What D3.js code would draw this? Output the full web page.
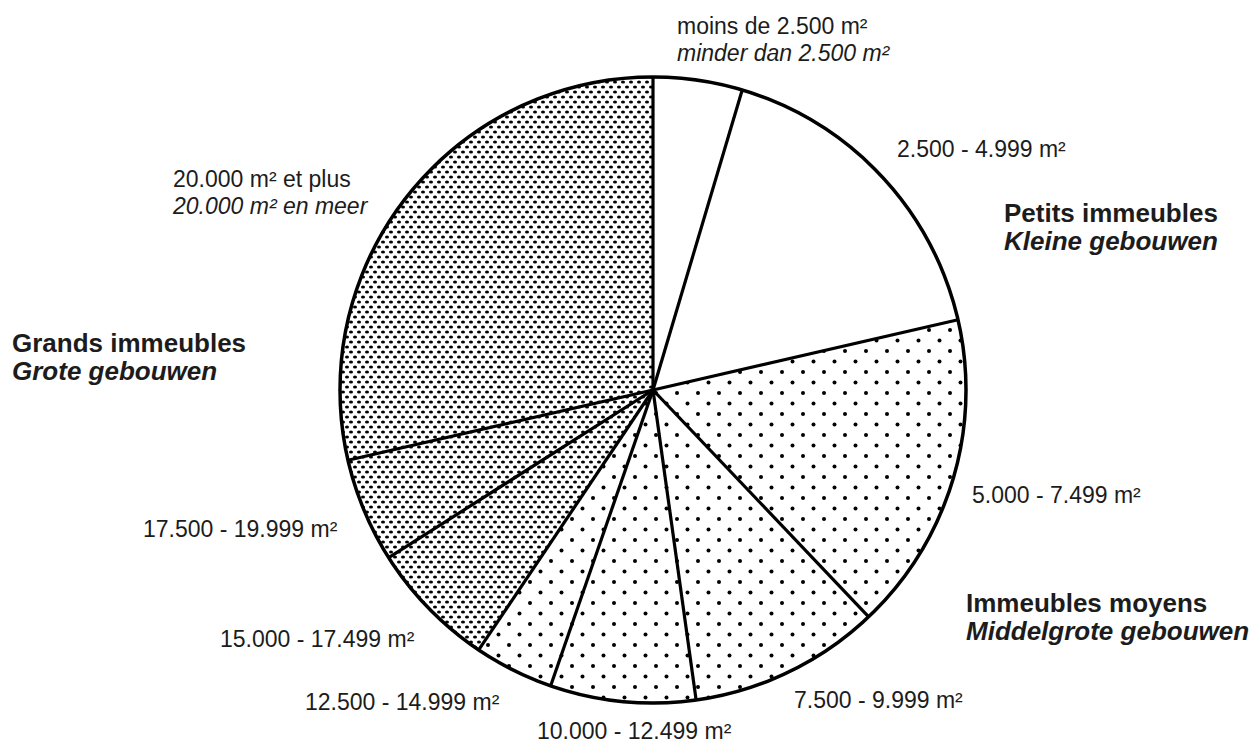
<!DOCTYPE html>
<html>
<head>
<meta charset="utf-8">
<script src="https://cdn.jsdelivr.net/npm/d3@7"></script>
<style>
  body { margin: 0; background: #fff; }
  text { font-family: "Liberation Sans", Arial, sans-serif; fill: #1c1c1c; }
</style>
</head>
<body>
<svg id="viz" width="1255" height="744"></svg>
<script>
var width = 1255, height = 744
var cx = 653, cy = 390, radius = 313

// share of each surface class (%), clockwise from 12 o'clock
var classes = ['lt2500', '2500-4999', '5000-7499', '7500-9999', '10000-12499',
               '12500-14999', '15000-17499', '17500-19999', '20000plus']
var shares = [4.6, 16.8, 16.5, 9.9, 7.5, 4.1, 6.6, 5.4, 28.6]
var groups = ['petits', 'petits', 'moyens', 'moyens', 'moyens', 'moyens', 'grands', 'grands', 'grands']

// text labels
var sizeLabels = [
  ['moins de 2.500 m²', 'minder dan 2.500 m²'],
  ['2.500 - 4.999 m²'],
  ['5.000 - 7.499 m²'],
  ['7.500 - 9.999 m²'],
  ['10.000 - 12.499 m²'],
  ['12.500 - 14.999 m²'],
  ['15.000 - 17.499 m²'],
  ['17.500 - 19.999 m²'],
  ['20.000 m² et plus', '20.000 m² en meer']
]
var groupLabels = [
  ['Petits immeubles', 'Kleine gebouwen'],
  ['Immeubles moyens', 'Middelgrote gebouwen'],
  ['Grands immeubles', 'Grote gebouwen']
]

// where the labels sit (left edge / baseline)
var sizeLabelPos = [[677, 34], [897, 157], [972, 503], [794, 708], [537, 739], [305, 710], [220, 647], [143, 537], [173, 187]]
var groupLabelPos = [[1004, 222], [966, 612], [12, 352]]

var svg = d3.select('svg#viz')
var defs = svg.append('defs')

// sparse dots for the medium buildings
var p1 = defs.append('pattern').attr('id', 'sparse')
  .attr('patternUnits', 'userSpaceOnUse')
  .attr('width', 21).attr('height', 21)
p1.append('circle').attr('cx', 3).attr('cy', 3).attr('r', 2).attr('fill', '#000')
p1.append('circle').attr('cx', 13.5).attr('cy', 13.5).attr('r', 2).attr('fill', '#000')

// dense dots for the large buildings
var p2 = defs.append('pattern').attr('id', 'dense')
  .attr('patternUnits', 'userSpaceOnUse')
  .attr('width', 8).attr('height', 10)
p2.append('ellipse').attr('cx', 2).attr('cy', 2).attr('rx', 2).attr('ry', 1.6).attr('fill', '#000')
p2.append('ellipse').attr('cx', 6).attr('cy', 7).attr('rx', 2).attr('ry', 1.6).attr('fill', '#000')

var fillFor = { petits: '#fff', moyens: 'url(#sparse)', grands: 'url(#dense)' }

var pie = d3.pie().sort(null).value(function(d) { return d })
var arc = d3.arc().innerRadius(0).outerRadius(radius)
var arcs = pie(shares)

var g = svg.append('g').attr('transform', 'translate(' + cx + ',' + cy + ')')

g.selectAll('path.slice')
  .data(arcs)
  .enter().append('path')
  .attr('class', 'slice')
  .attr('d', arc)
  .attr('fill', function(d, i) { return fillFor[groups[i]] })
  .attr('stroke', 'none')

// radial separators
g.selectAll('line.sep')
  .data(arcs)
  .enter().append('line')
  .attr('class', 'sep')
  .attr('x1', 0).attr('y1', 0)
  .attr('x2', function(d) { return radius * Math.sin(d.startAngle) })
  .attr('y2', function(d) { return -radius * Math.cos(d.startAngle) })
  .attr('stroke', '#000').attr('stroke-width', 3.2)

g.append('circle').attr('r', radius)
  .attr('fill', 'none').attr('stroke', '#000').attr('stroke-width', 3.5)

// size class labels
sizeLabels.forEach(function(lines, i) {
  var t = svg.append('text')
    .attr('x', sizeLabelPos[i][0]).attr('y', sizeLabelPos[i][1])
    .style('font-size', '23px')
  lines.forEach(function(s, j) {
    t.append('tspan')
      .attr('x', sizeLabelPos[i][0])
      .attr('dy', j == 0 ? 0 : 27)
      .style('font-style', j == 1 ? 'italic' : 'normal')
      .text(s)
  })
})

// group labels
groupLabels.forEach(function(lines, i) {
  var t = svg.append('text')
    .attr('x', groupLabelPos[i][0]).attr('y', groupLabelPos[i][1])
    .style('font-size', '26px').style('font-weight', 'bold')
  lines.forEach(function(s, j) {
    t.append('tspan')
      .attr('x', groupLabelPos[i][0])
      .attr('dy', j == 0 ? 0 : 28)
      .style('font-style', j == 1 ? 'italic' : 'normal')
      .text(s)
  })
})
</script>
</body>
</html>
